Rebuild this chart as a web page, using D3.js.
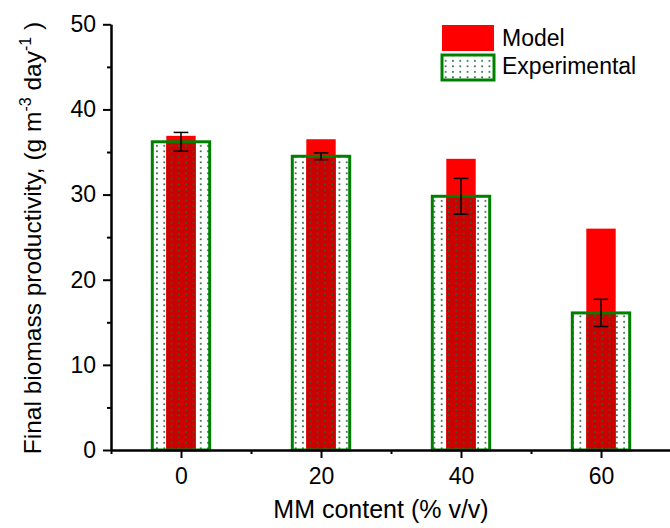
<!DOCTYPE html>
<html>
<head>
    <title>Final biomass productivity</title>
    <script src="https://d3js.org/d3.v7.min.js"></script>
    <style>
        body { margin: 0; background: #fff; }
        text { font-family: "Liberation Sans", Arial, sans-serif; fill: #000; }
    </style>
</head>
<body>
    <div id="chart"></div>
    <script>
    // data
    let categories = [0, 20, 40, 60];
    let modelValues = [36.9, 36.5, 34.2, 26.0];
    let expValues = [36.2, 34.5, 29.8, 16.1];
    let expErrors = [1.1, 0.4, 2.1, 1.6];
    let xTicks = [0, 20, 40, 60];
    let xMinorTicks = [-10, 10, 30, 50];
    let yTicks = [0, 10, 20, 30, 40, 50];
    let yMinorTicks = [5, 15, 25, 35, 45];
    let seriesNames = ["Model", "Experimental"];

    let width = 670,
        height = 528;

    let svg = d3.select("#chart")
        .append("svg")
        .attr("width", width)
        .attr("height", height);

    // dotted fill for the experimental bars
    let defs = svg.append("defs");
    let pat = defs.append("pattern")
        .attr("id", "dots")
        .attr("patternUnits", "userSpaceOnUse")
        .attr("width", 7.3)
        .attr("height", 5.5);
    pat.append("rect")
        .attr("x", 2.8).attr("y", 2)
        .attr("width", 1.7).attr("height", 1.7)
        .attr("fill", "#22663a");

    let x = d3.scaleLinear().domain([-10, 70]).range([111, 671]);
    let y = d3.scaleLinear().domain([0, 50]).range([450, 24.3]);

    let expHalf = 4.1,   // half widths in x units
        modelHalf = 2.1;

    // model bars
    svg.selectAll(".model")
        .data(categories)
        .enter()
        .append("rect")
        .attr("class", "model")
        .attr("x", d => x(d - modelHalf))
        .attr("width", 2 * (x(modelHalf) - x(0)))
        .attr("y", (d, i) => y(modelValues[i]))
        .attr("height", (d, i) => y(0) - y(modelValues[i]))
        .attr("fill", "#ff0000");

    // part of model bar seen through the experimental bar is darker
    svg.selectAll(".overlap")
        .data(categories)
        .enter()
        .append("rect")
        .attr("class", "overlap")
        .attr("x", d => x(d - modelHalf))
        .attr("width", 2 * (x(modelHalf) - x(0)))
        .attr("y", (d, i) => y(Math.min(modelValues[i], expValues[i])))
        .attr("height", (d, i) => y(0) - y(Math.min(modelValues[i], expValues[i])))
        .attr("fill", "#cc0000");

    // experimental bars
    svg.selectAll(".exp")
        .data(categories)
        .enter()
        .append("rect")
        .attr("class", "exp")
        .attr("x", d => x(d - expHalf))
        .attr("width", 2 * (x(expHalf) - x(0)))
        .attr("y", (d, i) => y(expValues[i]))
        .attr("height", (d, i) => y(0) - y(expValues[i]))
        .attr("fill", "url(#dots)")
        .attr("stroke", "#008000")
        .attr("stroke-width", 3);

    // error bars
    let capHalf = 1.05;
    let err = svg.selectAll(".err")
        .data(categories)
        .enter()
        .append("g")
        .attr("class", "err")
        .attr("stroke", "#000")
        .attr("stroke-width", 1.5);
    err.append("line")
        .attr("x1", d => x(d)).attr("x2", d => x(d))
        .attr("y1", (d, i) => y(expValues[i] + expErrors[i]))
        .attr("y2", (d, i) => y(expValues[i] - expErrors[i]));
    err.append("line")
        .attr("x1", d => x(d - capHalf)).attr("x2", d => x(d + capHalf))
        .attr("y1", (d, i) => y(expValues[i] + expErrors[i]))
        .attr("y2", (d, i) => y(expValues[i] + expErrors[i]));
    err.append("line")
        .attr("x1", d => x(d - capHalf)).attr("x2", d => x(d + capHalf))
        .attr("y1", (d, i) => y(expValues[i] - expErrors[i]))
        .attr("y2", (d, i) => y(expValues[i] - expErrors[i]));

    // axes
    svg.append("g")
        .attr("transform", `translate(0, ${y(0)})`)
        .call(d3.axisBottom(x).tickValues(xTicks).tickSize(8).tickSizeOuter(0).tickPadding(10));
    svg.append("g")
        .attr("transform", `translate(0, ${y(0)})`)
        .call(d3.axisBottom(x).tickValues(xMinorTicks).tickSize(4).tickSizeOuter(0).tickFormat(""));

    svg.append("g")
        .attr("transform", `translate(${x(-10)}, 0)`)
        .call(d3.axisLeft(y).tickValues(yTicks).tickSize(8).tickSizeOuter(0).tickPadding(7));
    svg.append("g")
        .attr("transform", `translate(${x(-10)}, 0)`)
        .call(d3.axisLeft(y).tickValues(yMinorTicks).tickSize(4).tickSizeOuter(0).tickFormat(""));

    svg.selectAll(".domain, .tick line")
        .attr("stroke", "#000")
        .attr("stroke-width", 2);
    svg.selectAll(".tick text")
        .style("font-family", "'Liberation Sans', Arial, sans-serif")
        .style("font-size", "23px")
        .attr("fill", "#000");

    // axis titles
    svg.append("text")
        .attr("x", 381)
        .attr("y", 518)
        .attr("text-anchor", "middle")
        .style("font-size", "25px")
        .text("MM content (% v/v)");

    let yTitle = svg.append("text")
        .attr("transform", "translate(41, 238) rotate(-90)")
        .attr("text-anchor", "middle")
        .style("font-size", "24.5px");
    yTitle.append("tspan").text("Final biomass productivity, (g m");
    yTitle.append("tspan").attr("dy", -10).style("font-size", "16px").text("-3");
    yTitle.append("tspan").attr("dy", 10).text(" day");
    yTitle.append("tspan").attr("dy", -10).style("font-size", "16px").text("-1");
    yTitle.append("tspan").attr("dy", 10).text(" )");

    // legend
    let legend = svg.append("g").attr("transform", "translate(442, 25)");
    legend.append("rect")
        .attr("width", 52).attr("height", 26)
        .attr("fill", "#ff0000");
    legend.append("rect")
        .attr("y", 30).attr("width", 52).attr("height", 25)
        .attr("fill", "url(#dots)")
        .attr("stroke", "#008000")
        .attr("stroke-width", 3);
    legend.selectAll(".lbl")
        .data(seriesNames)
        .enter()
        .append("text")
        .attr("x", 60)
        .attr("y", (d, i) => 21 + i * 28)
        .style("font-size", "23px")
        .text(d => d);
    </script>
</body>
</html>
